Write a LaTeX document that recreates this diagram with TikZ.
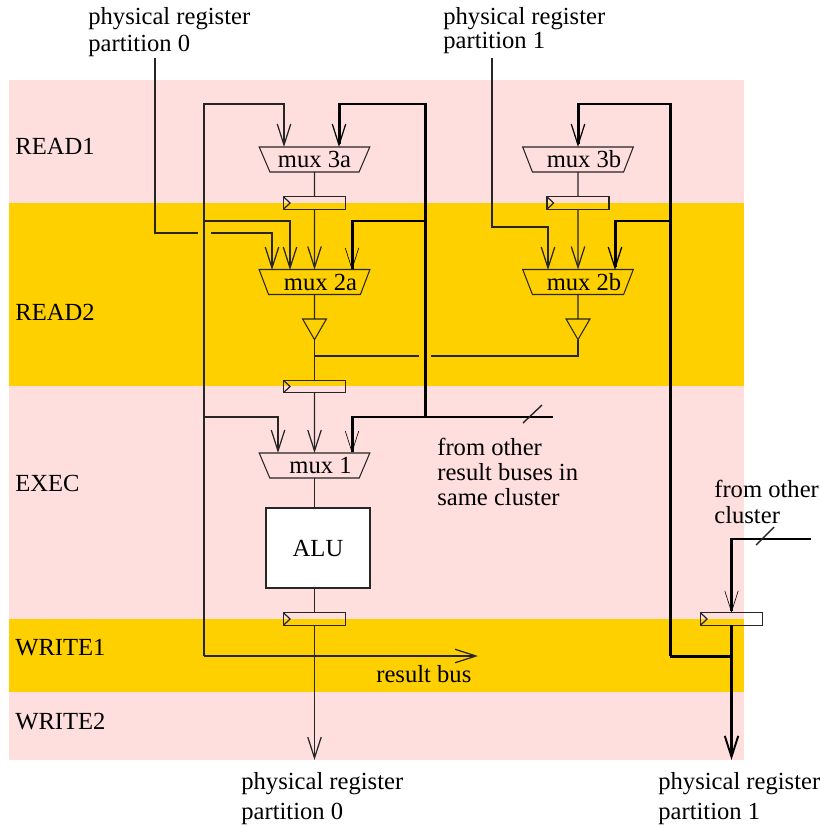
\documentclass[tikz,border=0pt]{standalone}
\usepackage{fontspec}
\setmainfont{Liberation Serif}
\usetikzlibrary{arrows.meta,shapes.geometric}

\definecolor{stagepink}{RGB}{255,222,222}
\definecolor{stagegold}{RGB}{255,208,0}

\tikzset{
    wire/.style={line width=0.7pt, black!85},
    bus/.style={line width=1.7pt, black},
    barb/.style={-{Straight Barb[length=0.42cm,width=0.27cm,line width=0.7pt]}},
    thinbarb/.style={-{Straight Barb[length=0.42cm,width=0.27cm,line width=0.35pt]}},
    fatbarb/.style={-{Straight Barb[length=0.42cm,width=0.27cm,line width=1.1pt]}},
    txt/.style={font={\fontsize{14}{15}\selectfont}, black, inner sep=0pt},
    muxbox/.style={draw=black!85, line width=0.6pt, trapezium, shape border rotate=180,
        trapezium left angle=62, trapezium right angle=62, trapezium stretches=true,
        minimum width=2.22cm, minimum height=0.5cm, inner sep=0pt, outer sep=0pt,
        font={\fontsize{14}{15}\selectfont}},
    regbox/.style={draw=black!85, line width=0.7pt, minimum width=1.24cm,
        minimum height=0.25cm, inner sep=0pt, outer sep=0pt,
        path picture={\draw[line width=0.7pt] (path picture bounding box.north west)
            -- ++(0.13cm,-0.125cm) -- (path picture bounding box.south west);}},
    bufbox/.style={draw=black!85, line width=0.6pt, regular polygon, regular polygon sides=3,
        shape border rotate=180, inner sep=0pt, outer sep=0pt, minimum size=0.55cm},
}

\begin{document}
\begin{tikzpicture}[x=0.02cm, y=-0.02cm]
        \useasboundingbox (0, 0) rectangle (820, 827);

        % pipeline stages
        \fill[stagepink] (9, 80) rectangle (744, 760);
        \fill[stagegold] (9, 203) rectangle (744, 386);
        \fill[stagegold] (9, 619) rectangle (744, 692);
        \node[txt, anchor=west] (read1) at (15, 146) {READ1};
        \node[txt, anchor=west] (read2) at (15, 312) {READ2};
        \node[txt, anchor=west] (exec) at (15, 483) {EXEC};
        \node[txt, anchor=west] (write1) at (15, 648) {WRITE1};
        \node[txt, anchor=west] (write2) at (15, 722) {WRITE2};

        % blocks
        \node[muxbox] (mux3a) at (314.5, 159.5) {mux 3a};
        \node[muxbox] (mux2a) at (314.5, 282) {\hspace{0.24cm}mux 2a};
        \node[muxbox] (mux1) at (314.5, 465.5) {\hspace{0.24cm}mux 1};
        \node[muxbox] (mux3b) at (578, 159.5) {\hspace{0.24cm}mux 3b};
        \node[muxbox] (mux2b) at (578, 282) {\hspace{0.24cm}mux 2b};
        \node[regbox] (reg3a) at (314.5, 203) {};
        \node[regbox] (reg3b) at (578, 203) {};
        \node[regbox] (reg2a) at (314.5, 386.5) {};
        \node[regbox] (reg1) at (314.5, 619) {};
        \node[regbox] (regother) at (731.5, 619) {};
        \node[bufbox, anchor=north] (buf2a) at (314.5, 319) {};
        \node[bufbox, anchor=north] (buf2b) at (578, 319) {};
        \node[draw=black!85, line width=0.7pt, fill=white, minimum width=2.08cm, minimum height=1.6cm,
            inner sep=0pt, outer sep=0pt, font={\fontsize{14}{15}\selectfont}] (alu) at (318, 548) {ALU\hspace{0.12cm}};

        % labels
        \node[txt, anchor=west] (inzero) at (88, 19) {physical register};
        \node[txt, anchor=west] (inzerob) at (88, 46) {partition 0};
        \node[txt, anchor=west] (inone) at (443, 19) {physical register};
        \node[txt, anchor=west] (inoneb) at (443, 43) {partition 1};
        \node[txt, anchor=west] (outzero) at (241, 784) {physical register};
        \node[txt, anchor=west] (outzerob) at (241, 814) {partition 0};
        \node[txt, anchor=west] (outone) at (658, 784) {physical register};
        \node[txt, anchor=west] (outoneb) at (658, 814) {partition 1};
        \node[txt, anchor=west] (fromresa) at (437, 447) {from other};
        \node[txt, anchor=west] (fromresb) at (437, 472) {result buses in};
        \node[txt, anchor=west] (fromresc) at (437, 497) {same cluster};
        \node[txt, anchor=west] (fromclua) at (714, 489) {from other};
        \node[txt, anchor=west] (fromclub) at (714, 515) {cluster};
        \node[txt, anchor=west] (resbus) at (376, 674) {result bus};

        % free ends and corners
        \coordinate (buslow) at (204, 656);
        \coordinate (bustop) at (204, 104);
        \coordinate (bustwo) at (204, 221);
        \coordinate (busone) at (204, 417);
        \coordinate (restip) at (478, 656);
        \coordinate (in3aleft) at (284, 147);
        \coordinate (in3aright) at (339, 147);
        \coordinate (in2afar) at (272, 270);
        \coordinate (in2aleft) at (290, 270);
        \coordinate (in2aright) at (352, 270);
        \coordinate (in1left) at (278, 453);
        \coordinate (in1right) at (352, 453);
        \coordinate (in3bmid) at (578, 147);
        \coordinate (in2bleft) at (548, 270);
        \coordinate (in2bright) at (615, 270);
        \coordinate (zerostart) at (155, 58);
        \coordinate (zerocorner) at (155, 233);
        \coordinate (zerogap) at (198, 233);
        \coordinate (zeroresume) at (211, 233);
        \coordinate (onestart) at (492, 58);
        \coordinate (onecorner) at (548, 227);
        \coordinate (busrighta) at (425, 104);
        \coordinate (busrightb) at (425, 221);
        \coordinate (busrightc) at (425, 417);
        \coordinate (busend) at (553, 417);
        \coordinate (busfar) at (670, 104);
        \coordinate (busfarb) at (670, 221);
        \coordinate (busfarc) at (670, 656);
        \coordinate (join) at (731.5, 656);
        \coordinate (outfar) at (731.5, 760);
        \coordinate (outnear) at (314.5, 760);
        \coordinate (clustart) at (811, 539);
        \coordinate (clucorner) at (731.5, 539);
        \coordinate (tap) at (314.5, 356);
        \coordinate (tapgap) at (419, 356);
        \coordinate (tapresume) at (431, 356);
        \coordinate (tapslasha) at (523, 423);
        \coordinate (tapslashb) at (542, 405);
        \coordinate (cluslasha) at (756, 545);
        \coordinate (cluslashb) at (774, 527);

        % thin wires
        \draw[wire, barb] (buslow) -- (bustop) -| (in3aleft);
        \draw[wire, barb] (buslow) -- (restip);
        \draw[wire, barb] (bustwo) -| (in2aleft);
        \draw[wire, barb] (busone) -| (in1left);
        \draw[wire] (zerostart) -- (zerocorner) -- (zerogap);
        \draw[wire, barb] (zeroresume) -| (in2afar);
        \draw[wire, barb] (onestart) |- (onecorner) -- (in2bleft);
        \draw[wire] (mux3a.south) -- (reg3a.north);
        \draw[wire] (mux3b.south) -- (reg3b.north);
        \draw[wire, barb] (reg3a.south) -- (mux2a.north);
        \draw[wire, barb] (reg3b.south) -- (mux2b.north);
        \draw[wire] (mux2a.south) -- (buf2a.north);
        \draw[wire] (mux2b.south) -- (buf2b.north);
        \draw[wire] (buf2a.south) -- (reg2a.north);
        \draw[wire] (tap) -- (tapgap);
        \draw[wire] (tapresume) -| (buf2b.south);
        \draw[wire, barb] (reg2a.south) -- (mux1.north);
        \draw[wire] (mux1.south) -- (alu.north -| mux1.south);
        \draw[wire] (alu.south -| reg1.north) -- (reg1.north);
        \draw[wire, barb] (reg1.south) -- (outnear);

        % result buses
        \draw[bus, barb] (busrightc) -- (busrighta) -| (in3aright);
        \draw[bus, thinbarb] (busrightb) -| (in2aright);
        \draw[bus, thinbarb] (busend) -| (in1right);
        \draw[wire, line width=0.8pt] (tapslasha) -- (tapslashb);
        \draw[bus, barb] (busfarc) -- (busfar) -| (in3bmid);
        \draw[bus, barb] (busfarb) -| (in2bright);
        \draw[bus] (busfarc) -- (join);
        \draw[bus, fatbarb] (regother.south) -- (outfar);
        \draw[bus, thinbarb] (clustart) -- (clucorner) -- (regother.north);
        \draw[wire, line width=0.8pt] (cluslasha) -- (cluslashb);
\end{tikzpicture}
\end{document}
